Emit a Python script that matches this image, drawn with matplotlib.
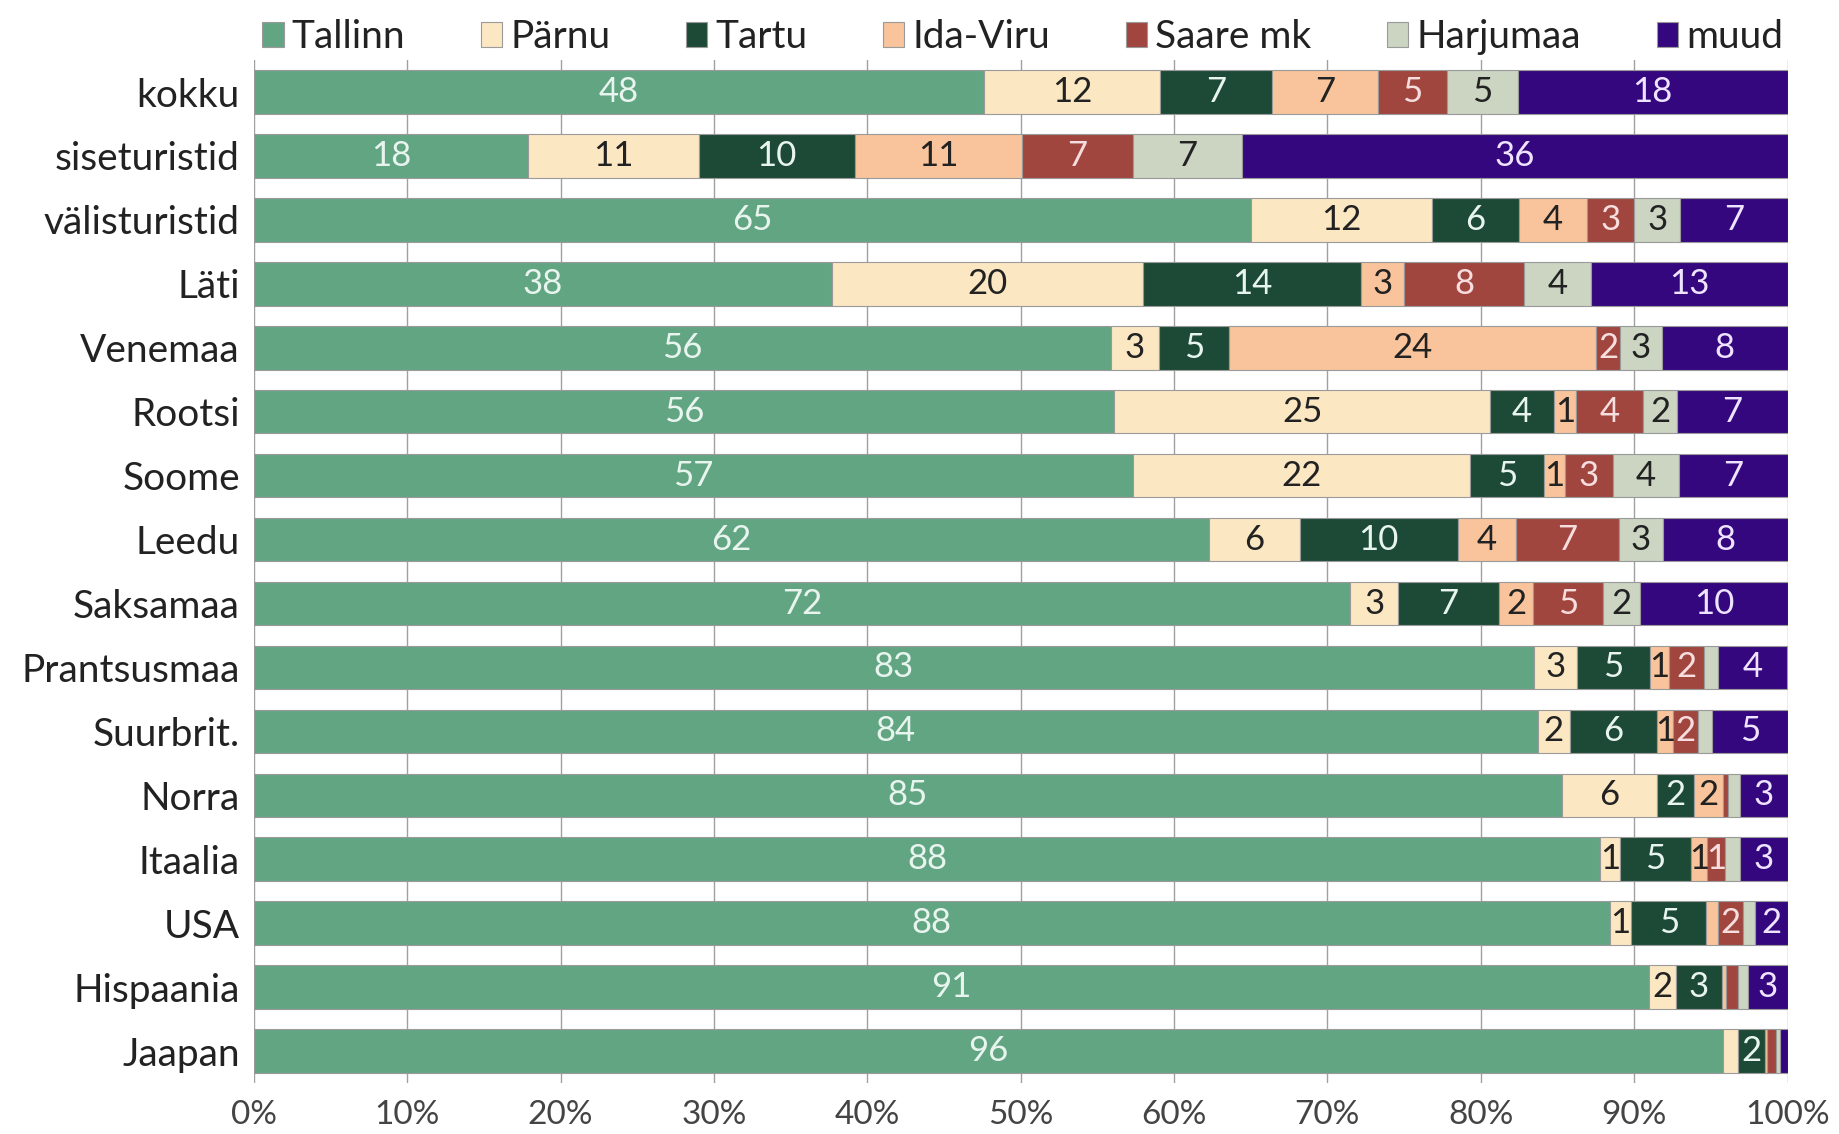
import numpy as np
import matplotlib
matplotlib.use('Agg')
import matplotlib.pyplot as plt

plt.rcParams['font.family'] = ['Lato', 'DejaVu Sans']

# osakaalud (%) maakondade / linnade kaupa
riigid = ['kokku', 'siseturistid', 'välisturistid', 'Läti', 'Venemaa', 'Rootsi',
          'Soome', 'Leedu', 'Saksamaa', 'Prantsusmaa', 'Suurbrit.', 'Norra',
          'Itaalia', 'USA', 'Hispaania', 'Jaapan']

tallinn  = [47.6, 17.9, 65.0, 37.7, 55.9, 56.1, 57.3, 62.3, 71.5, 83.45, 83.7, 85.3, 87.8, 88.4, 91.0, 95.8]
parnu    = [11.5, 11.1, 11.8, 20.3,  3.1, 24.5, 22.0,  5.9,  3.1,  2.8,  2.1,  6.2,  1.3,  1.4,  1.7, 0.95]
tartu    = [ 7.3, 10.2,  5.7, 14.2,  4.6,  4.2,  4.8, 10.3,  6.6,  4.8,  5.7,  2.4,  4.6,  4.9,  3.0,  1.8]
ida_viru = [ 6.9, 10.9,  4.4,  2.8, 23.9,  1.4,  1.4,  3.8,  2.2,  1.2, 1.05,  1.9, 1.05,  0.8,  0.3,  0.1]
saare    = [ 4.5,  7.2,  3.1,  7.8,  1.6,  4.4,  3.1,  6.7,  4.6,  2.3,  1.6,  0.3,  1.2,  1.6,  0.8,  0.6]
harju    = [ 4.6,  7.1,  3.0,  4.4,  2.7,  2.2,  4.3,  2.9,  2.4, 0.95, 0.95,  0.8, 0.95,  0.8,  0.6, 0.25]
muud     = [17.6, 35.6,  7.0, 12.8,  8.2,  7.2,  7.1,  8.1,  9.6, 4.45,  4.9,  3.1, 3.15,  2.1,  2.6,  0.5]

seeriad = ['Tallinn', 'Pärnu', 'Tartu', 'Ida-Viru', 'Saare mk', 'Harjumaa', 'muud']
andmed = [tallinn, parnu, tartu, ida_viru, saare, harju, muud]
varvid = ['#62a583', '#fce7c3', '#1d4a37', '#f9c49b', '#a1463f', '#cbd5c2', '#35077f']
tekst_varv = ['#e8f5ee', '#222222', '#e8f5ee', '#222222', '#f7dede', '#222222', '#eee4ff']

fig = plt.figure(figsize=(18.39, 11.34), dpi=100)
ax = fig.add_axes([0.138, 0.045, 0.834, 0.902])

y = np.arange(len(riigid))
left = np.zeros(len(riigid))
for nimi, vals, c, tc in zip(seeriad, andmed, varvid, tekst_varv):
    vals = np.array(vals)
    bars = ax.barh(y, vals, left=left, height=0.68, color=c, edgecolor='#9a9a9a',
                   linewidth=0.8, label=nimi, zorder=3)
    for b, v in zip(bars, vals):
        if v >= 1.0:
            ax.text(b.get_x() + b.get_width() / 2, b.get_y() + b.get_height() / 2,
                    str(int(v + 0.5)), ha='center', va='center', fontsize=25,
                    color=tc, zorder=4)
    left += vals

ax.set_ylim(len(riigid) - 0.5, -0.5)
ax.set_xlim(0, 100)
ax.set_yticks(y)
ax.set_yticklabels(riigid, fontsize=28, color='#222222')
ax.set_xticks(np.arange(0, 101, 10))
ax.set_xticklabels([f'{t}%' for t in range(0, 101, 10)], fontsize=24, color='#444444')
ax.tick_params(axis='y', length=0, pad=10)
ax.tick_params(axis='x', length=0, pad=12)
ax.grid(axis='x', color='#a0a0a0', linewidth=1, zorder=0)
for s in ax.spines.values():
    s.set_visible(False)

fig.legend(loc='upper center', bbox_to_anchor=(0.556, 1.014), ncol=7, frameon=False,
           fontsize=28, handlelength=0.55, handleheight=0.6, handletextpad=0.2,
           columnspacing=1.95, labelcolor='#222222')

fig.savefig('out.png', dpi=100)
